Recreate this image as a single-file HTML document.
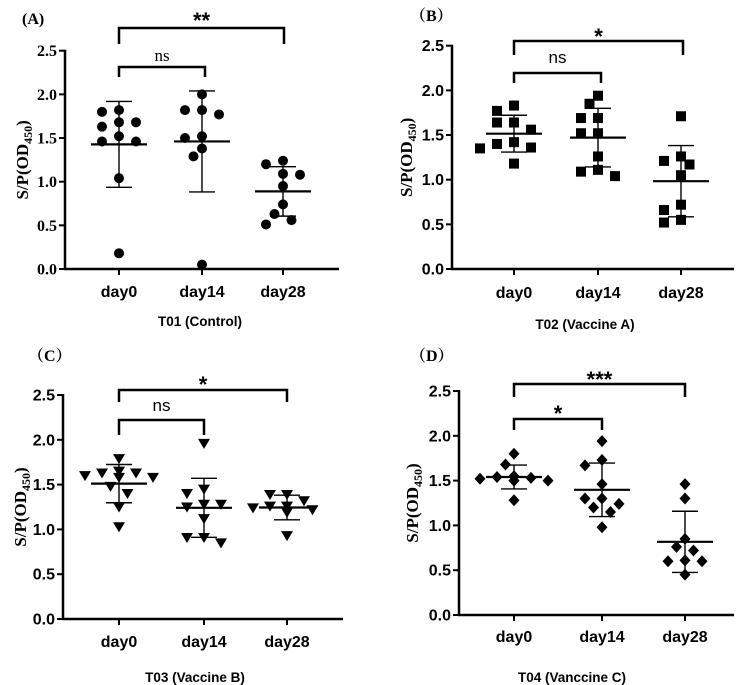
<!DOCTYPE html>
<html><head><meta charset="utf-8"><style>
html,body{margin:0;padding:0;background:#fff;}
svg{display:block;}
</style></head><body>
<svg id="fig" width="744" height="685" viewBox="0 0 744 685" xmlns="http://www.w3.org/2000/svg"></svg>
<script>
const categories = ["day0","day14","day28"];
const yTicks = [0,0.5,1.0,1.5,2.0,2.5];
const yTickLabels = ["0.0","0.5","1.0","1.5","2.0","2.5"];
const seriesA = [
 [1.80,1.82,1.68,1.68,1.63,1.52,1.46,1.46,1.04,0.18],
 [2.00,1.82,1.82,1.77,1.52,1.50,1.38,1.29,0.05],
 [1.24,1.20,1.09,1.08,0.95,0.74,0.63,0.56,0.51]];
const seriesB = [
 [1.83,1.77,1.64,1.64,1.56,1.42,1.40,1.36,1.35,1.18],
 [1.94,1.85,1.69,1.69,1.52,1.52,1.26,1.11,1.09,1.04],
 [1.71,1.26,1.21,1.17,1.05,0.72,0.66,0.55,0.52]];
const seriesC = [
 [1.79,1.65,1.63,1.63,1.60,1.58,1.58,1.48,1.40,1.25,1.03],
 [1.96,1.45,1.40,1.28,1.28,1.25,1.12,0.91,0.91,0.85],
 [1.39,1.39,1.32,1.26,1.26,1.24,1.22,1.19,0.93]];
const seriesD = [
 [1.80,1.68,1.55,1.54,1.53,1.52,1.50,1.50,1.50,1.28],
 [1.94,1.73,1.67,1.46,1.30,1.30,1.24,1.20,1.15,0.98],
 [1.46,1.30,0.85,0.76,0.72,0.61,0.60,0.60,0.45]];
const sigLabelsA = ["ns","**"];
const sigLabelsB = ["ns","*"];
const sigLabelsC = ["ns","*"];
const sigLabelsD = ["*","***"];

const NS="http://www.w3.org/2000/svg";
const svg=document.getElementById('fig');
function mk(tag,attrs,parent){const e=document.createElementNS(NS,tag);for(const k in attrs)e.setAttribute(k,attrs[k]);(parent||svg).appendChild(e);return e;}

const panels=[
 {id:'a',data:seriesA,sig:sigLabelsA,marker:'circle',letter:'(A)',title:'T01 (Control)',tickFont:'"Liberation Serif", serif',
  ax:65,y0:269,y25:50.7,cx:[119,202,283],xEnd:339,dayY:297,titleY:326,titleX:200,letX:22,letY:24,
  bigTop:28,bigDown:44,bigTextY:20,smallTop:67,smallDown:77,smallTextY:61,smallEnd:205,bigEnd:284,ytitleX:22},
 {id:'b',data:seriesB,sig:sigLabelsB,marker:'square',letter:'（B）',title:'T02 (Vaccine A)',tickFont:'"Liberation Sans", sans-serif',
  ax:452,y0:269,y25:45.7,cx:[514,598,681],xEnd:734,dayY:298,titleY:329,titleX:585,letX:410,letY:21,
  bigTop:41,bigDown:55,bigTextY:36,smallTop:73,smallDown:83,smallTextY:63,smallEnd:601,bigEnd:683,ytitleX:406},
 {id:'c',data:seriesC,sig:sigLabelsC,marker:'tri',letter:'（C）',title:'T03 (Vaccine B)',tickFont:'"Liberation Sans", sans-serif',
  ax:63,y0:619,y25:395,cx:[119,204,287],xEnd:343,dayY:647,titleY:682,titleX:195,letX:28,letY:361,
  bigTop:390,bigDown:402,bigTextY:384,smallTop:420,smallDown:435,smallTextY:411,smallEnd:204,bigEnd:287,ytitleX:20},
 {id:'d',data:seriesD,sig:sigLabelsD,marker:'diamond',letter:'（D）',title:'T04 (Vanccine C)',tickFont:'"Liberation Sans", sans-serif',
  ax:459,y0:615,y25:391,cx:[514,602,685],xEnd:734,dayY:642,titleY:682,titleX:572,letX:410,letY:361,
  bigTop:384,bigDown:397,bigTextY:379,smallTop:419,smallDown:430,smallTextY:413,smallEnd:602,bigEnd:685,ytitleX:412}
];

function drawMarker(g,type,x,y){
  let e;
  if(type==='circle') e=mk('circle',{cx:x,cy:y,r:5,fill:'#000'},g);
  else if(type==='square') e=mk('rect',{x:x-5,y:y-5,width:10,height:10,fill:'#000'},g);
  else if(type==='tri') e=mk('polygon',{points:`${x-6},${y-4.5} ${x+6},${y-4.5} ${x},${y+5.5}`,fill:'#000'},g);
  else e=mk('polygon',{points:`${x},${y-6} ${x+5.5},${y} ${x},${y+6} ${x-5.5},${y}`,fill:'#000'},g);
  
  
}

panels.forEach(p=>{
  const g=mk('g',{});
  
  
  const ys=v=>p.y0-(p.y0-p.y25)*v/2.5;
  const ya=mk('line',{x1:p.ax,y1:p.y25-1,x2:p.ax,y2:p.y0+1,stroke:'#000','stroke-width':2.5},g);
  
  const xa=mk('line',{x1:p.ax-1,y1:p.y0,x2:p.xEnd,y2:p.y0,stroke:'#000','stroke-width':2.5},g);
  
  yTicks.forEach((t,i)=>{
    const y=ys(t);
    mk('line',{x1:p.ax-6,y1:y,x2:p.ax,y2:y,stroke:'#000','stroke-width':2},g);
    const tx=mk('text',{x:p.ax-8,y:y+5.5,'text-anchor':'end','font-family':p.tickFont,'font-weight':'bold','font-size':16},g);
    tx.textContent=yTickLabels[i];
    
  });
  categories.forEach((c,i)=>{
    mk('line',{x1:p.cx[i],y1:p.y0,x2:p.cx[i],y2:p.y0+6,stroke:'#000','stroke-width':2},g);
    const tx=mk('text',{x:p.cx[i],y:p.dayY,'text-anchor':'middle','font-family':'"Liberation Sans", sans-serif','font-weight':'bold','font-size':16},g);
    tx.textContent=c;
    
  });
  const yt=mk('text',{x:0,y:0,transform:`translate(${p.ytitleX+6},${(p.y0+p.y25)/2}) rotate(-90)`,'text-anchor':'middle','font-family':'"Liberation Serif", serif','font-weight':'bold','font-size':17},g);
  yt.innerHTML='S/P(OD<tspan font-size="12" dy="4">450</tspan><tspan dy="-4">)</tspan>';
  
  const tt=mk('text',{x:p.titleX,y:p.titleY,'text-anchor':'middle','font-family':'"Liberation Sans", sans-serif','font-weight':'bold','font-size':13.5},g);
  tt.textContent=p.title;
  
  const lt=mk('text',{x:p.letX,y:p.letY,'font-family':'"Liberation Serif", "Noto Serif CJK SC", serif','font-weight':'bold','font-size':16},g);
  lt.textContent=p.letter;
  
  p.data.forEach((vals,ci)=>{
    const cx=p.cx[ci];
    const n=vals.length, mean=vals.reduce((a,b)=>a+b,0)/n;
    const sd=Math.sqrt(vals.reduce((a,b)=>a+(b-mean)**2,0)/(n-1));
    const placed=[];
    const sorted=vals.slice().sort((a,b)=>b-a);
    sorted.forEach(v=>{
      const y=ys(v);let off=0;
      const cands=[0,-8.5,8.5,-17,17,-25.5,25.5,-34,34];
      for(const o of cands){ if(placed.every(q=>Math.hypot(q[0]-(cx+o),q[1]-y)>=11.5)){off=o;break;} }
      placed.push([cx+off,y]);
    });
    const ml=mk('line',{x1:cx-28,y1:ys(mean),x2:cx+28,y2:ys(mean),stroke:'#000','stroke-width':2.2},g);
    
    const el=mk('line',{x1:cx,y1:ys(mean+sd),x2:cx,y2:ys(mean-sd),stroke:'#000','stroke-width':1.4},g);
    
    [mean+sd,mean-sd].forEach(v=>mk('line',{x1:cx-13,y1:ys(v),x2:cx+13,y2:ys(v),stroke:'#000','stroke-width':1.4},g));
    placed.forEach(q=>drawMarker(g,p.marker,q[0],q[1]));
  });
  const b1=mk('path',{d:`M${p.cx[0]},${p.smallDown} V${p.smallTop} H${p.smallEnd} V${p.smallDown}`,fill:'none',stroke:'#000','stroke-width':2.5},g);
  
  const b2=mk('path',{d:`M${p.cx[0]},${p.bigDown} V${p.bigTop} H${p.bigEnd} V${p.bigDown}`,fill:'none',stroke:'#000','stroke-width':2.5},g);
  
  const isA=p.id==='a';
  [[p.sig[0],(p.cx[0]+p.smallEnd)/2,p.smallTextY],[p.sig[1],(p.cx[0]+p.bigEnd)/2,p.bigTextY]].forEach(s=>{
    const star=s[0].indexOf('*')>=0;
    const t=mk('text',{x:s[1],y:s[2]+(star?8:0),'text-anchor':'middle','font-family':isA&&!star?'"Liberation Serif", serif':'"Liberation Sans", sans-serif','font-weight':star?'bold':'normal','font-size':star?22:17},g);
    t.textContent=s[0];
    
  });
});
</script>
</body></html>
